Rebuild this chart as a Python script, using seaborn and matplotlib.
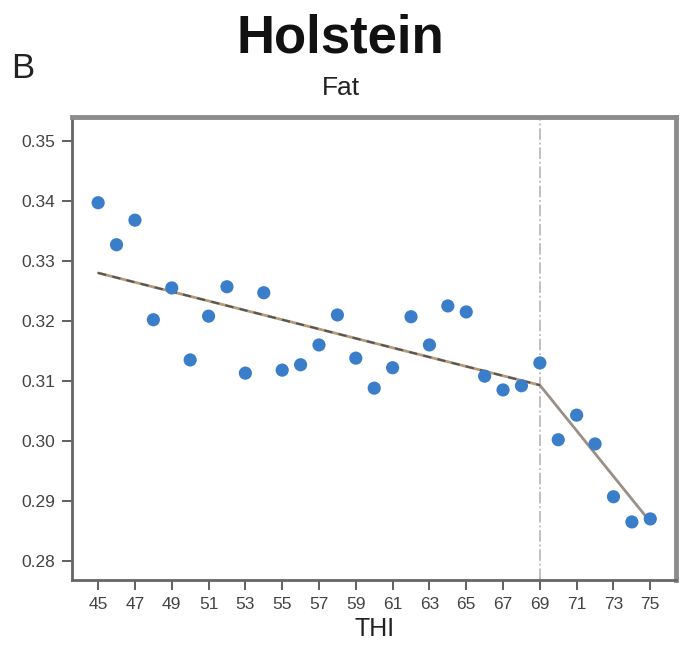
import numpy as np
import pandas as pd
import matplotlib
matplotlib.use("Agg")
import matplotlib.pyplot as plt
import seaborn as sns

sns.set_style("white")
plt.rcParams["font.family"] = ["Liberation Sans", "DejaVu Sans"]

thi = list(range(45, 76))
fat = [0.3397, 0.3327, 0.3368, 0.3202, 0.3255, 0.3135, 0.3208, 0.3257, 0.3113, 0.3247,
       0.3118, 0.3127, 0.3160, 0.3210, 0.3138, 0.3088, 0.3122, 0.3207, 0.3160, 0.3225,
       0.3215, 0.3108, 0.3085, 0.3092, 0.3130, 0.3002, 0.3043, 0.2995, 0.2907, 0.2865,
       0.2870]
breakpoint_thi = 69
fit_x1 = [45, 69]
fit_y1 = [0.3280, 0.3093]
fit_x2 = [69, 75]
fit_y2 = [0.3093, 0.2865]

df = pd.DataFrame({"THI": thi, "Fat": fat})
seg1 = pd.DataFrame({"THI": fit_x1, "Fat": fit_y1})
seg2 = pd.DataFrame({"THI": fit_x2, "Fat": fit_y2})

fig = plt.figure(figsize=(6.81, 6.57), dpi=100)
ax = fig.add_axes([0.106, 0.117, 0.887, 0.705])

ax.axvline(breakpoint_thi, color="#bbbbbb", lw=1.3, ls="-.", zorder=1)
sns.lineplot(data=seg1, x="THI", y="Fat", ax=ax, color="#b59a7a", lw=2, zorder=2)
sns.lineplot(data=seg1, x="THI", y="Fat", ax=ax, color="#555555", lw=1.5,
             linestyle=(0, (4, 3)), zorder=3)
sns.lineplot(data=seg2, x="THI", y="Fat", ax=ax, color="#9a8f86", lw=2, zorder=2)
sns.scatterplot(data=df, x="THI", y="Fat", ax=ax, color="#3a7dc9", s=90,
                edgecolor="none", zorder=4)

ax.set_xlim(43.59, 76.41)
ax.set_ylim(0.2768, 0.354)
ax.set_xticks(list(range(45, 76, 2)))
ax.set_yticks([0.28, 0.29, 0.30, 0.31, 0.32, 0.33, 0.34, 0.35])
ax.set_yticklabels(["0.28", "0.29", "0.30", "0.31", "0.32", "0.33", "0.34", "0.35"])
ax.tick_params(axis="both", labelsize=12.5, colors="#444444", length=7, width=1.2,
               direction="out", bottom=True, left=True, pad=5)
ax.set_xlabel("THI", fontsize=18, color="#222222", labelpad=4)
ax.set_ylabel("")

for side in ["left", "bottom"]:
    ax.spines[side].set_color("#666666")
    ax.spines[side].set_linewidth(2)
for side in ["top", "right"]:
    ax.spines[side].set_color("#8c8c8c")
    ax.spines[side].set_linewidth(3.5)

fig.text(0.5, 0.942, "Holstein", ha="center", va="center", fontsize=38,
         fontweight="bold", color="#111111")
fig.text(0.5, 0.866, "Fat", ha="center", va="center", fontsize=19, color="#222222")
fig.text(0.033, 0.896, "B", ha="center", va="center", fontsize=25, color="#222222")

fig.savefig("out.png", dpi=100)
